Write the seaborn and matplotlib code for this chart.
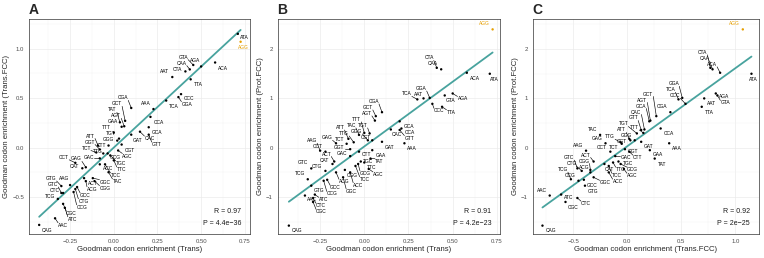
import matplotlib
matplotlib.use('Agg')
import seaborn as sns
import matplotlib.pyplot as plt
import pandas as pd
import numpy as np
from matplotlib.ticker import MultipleLocator

# Goodman codon enrichment per codon
codons = ['TTT', 'TTC', 'TTA', 'TTG', 'CTT', 'CTC', 'CTA', 'CTG', 'ATT', 'ATC',
          'ATA', 'GTT', 'GTC', 'GTA', 'GTG', 'TCT', 'TCC', 'TCA', 'TCG', 'CCT',
          'CCC', 'CCA', 'CCG', 'ACT', 'ACC', 'ACA', 'ACG', 'GCT', 'GCC', 'GCA',
          'GCG', 'TAT', 'TAC', 'CAT', 'CAC', 'CAA', 'CAG', 'AAT', 'AAC', 'AAA',
          'AAG', 'GAT', 'GAC', 'GAA', 'GAG', 'TGT', 'TGC', 'CGT', 'CGC', 'CGA',
          'CGG', 'AGT', 'AGC', 'AGA', 'AGG', 'GGT', 'GGC', 'GGA', 'GGG']
trans = [0.00, 0.00, 0.44, -0.06, -0.03, -0.29, 0.41, -0.22, -0.09, -0.28,
         0.71, 0.20, -0.30, 0.455, -0.30, -0.10, -0.05, 0.30, -0.32, -0.22,
         0.385, 0.21, -0.23, -0.17, -0.08, 0.58, -0.16, 0.065, -0.21, 0.20,
         -0.035, 0.035, -0.03, -0.18, 0.15, 0.435, -0.427, 0.335, -0.336, 0.227,
         -0.25, 0.10, -0.08, 0.045, -0.16, 0.03, -0.02, 0.045, -0.29, 0.10,
         -0.11, 0.06, 0.025, 0.50, 0.726, -0.08, -0.12, 0.37, 0.02]
trans_fcc = [0.15, -0.13, 0.69, -0.06, 0.02, -0.46, 0.77, -0.42, 0.02, -0.61,
             1.15, 0.13, -0.46, 0.835, -0.39, -0.05, -0.17, 0.475, -0.52, -0.155,
             0.54, 0.31, -0.45, -0.31, -0.17, 0.86, -0.34, 0.27, -0.40, 0.205,
             -0.06, 0.255, -0.25, -0.21, 0.16, 0.79, -0.783, 0.713, -0.716, 0.389,
             -0.38, 0.13, -0.11, 0.21, -0.20, 0.09, -0.08, 0.03, -0.57, 0.40,
             -0.34, 0.215, -0.03, 0.82, 1.07, -0.02, -0.31, 0.51, 0.07]
prot_fcc = [0.30, -0.30, 0.83, 0.11, -0.08, -1.02, 1.62, -0.47, 0.18, -0.95,
            1.50, 0.36, -0.42, 1.06, -0.77, 0.08, -0.37, 0.98, -0.64, -0.08,
            0.89, 0.39, -0.67, -0.28, -0.50, 1.52, -0.50, 0.64, -0.65, 0.535,
            -0.33, -0.22, 0.26, -0.33, 0.37, 1.59, -1.58, 1.00, -0.97, 0.09,
            -0.06, 0.12, -0.17, -0.05, 0.09, 0.29, -0.28, 0.15, -1.10, 0.72,
            -0.45, 0.55, -0.43, 1.10, 2.40, -0.03, -0.60, 1.01, 0.15]

r_text = ['0.97', '0.91', '0.92']
p_text = ['4.4e\u221236', '4.2e\u221223', '2e\u221225']

df = pd.DataFrame({'codon': codons, 'trans': trans,
                   'trans_fcc': trans_fcc, 'prot_fcc': prot_fcc})
df['highlight'] = df['codon'].eq('AGG')

TEAL = '#48A39E'
ORANGE = '#E69F00'

sns.set_style('white')
plt.rcParams['font.family'] = ['Liberation Sans', 'DejaVu Sans']

fig = plt.figure(figsize=(7.64, 2.58), dpi=100)


def repel_labels(ax, xs, ys, names, colors, fontsize=3.5):
    """Very small ggrepel-like label placement."""
    renderer = fig.canvas.get_renderer()
    xs = np.asarray(xs, float)
    ys = np.asarray(ys, float)
    pts = ax.transData.transform(np.column_stack([xs, ys]))
    half = []
    for name in names:
        t = ax.text(0, 0, name, fontsize=fontsize)
        bb = t.get_window_extent(renderer)
        half.append((bb.width / 2, bb.height / 2))
        t.remove()
    half = np.array(half)
    k, b = np.polyfit(xs, ys, 1)
    side = np.sign(ys - (k * xs + b))
    side[side == 0] = 1
    start = pts + np.column_stack([-side * (half[:, 0] + 3),
                                   side * (half[:, 1] + 3)])
    pos = start.copy()
    n = len(names)
    eye = np.eye(n, dtype=bool)
    tie = np.sign(np.arange(n)[:, None] - np.arange(n)[None, :])
    box = ax.get_window_extent(renderer)
    for it in range(1200):
        late = it >= 900
        dx = pos[:, 0, None] - pos[None, :, 0]
        dy = pos[:, 1, None] - pos[None, :, 1]
        ox = half[:, 0, None] + half[None, :, 0] + 2.0 - np.abs(dx)
        oy = half[:, 1, None] + half[None, :, 1] + 1.0 - np.abs(dy)
        hit = (ox > 0) & (oy > 0) & ~eye
        sx = np.where(dx == 0, tie, np.sign(dx))
        sy = np.where(dy == 0, tie, np.sign(dy))
        ux = ox < oy
        fx = np.where(hit & ux, sx * ox, 0).sum(1) * 0.5
        fy = np.where(hit & ~ux, sy * oy, 0).sum(1) * 0.5
        if not late:
            # keep labels off the dots
            qx = pos[:, 0, None] - pts[None, :, 0]
            qy = pos[:, 1, None] - pts[None, :, 1]
            pox = half[:, 0, None] + 2.0 - np.abs(qx)
            poy = half[:, 1, None] + 1.5 - np.abs(qy)
            phit = (pox > 0) & (poy > 0)
            pux = pox < poy
            fx += np.where(phit & pux, np.where(qx == 0, 1, np.sign(qx)) * pox, 0).sum(1) * 0.5
            fy += np.where(phit & ~pux, np.where(qy == 0, 1, np.sign(qy)) * poy, 0).sum(1) * 0.5
            pos += 0.004 * (start - pos)
        pos += np.column_stack([fx, fy]) * 0.5
        pos[:, 0] = np.clip(pos[:, 0], box.x0 + half[:, 0] + 1, box.x1 - half[:, 0] - 1)
        pos[:, 1] = np.clip(pos[:, 1], box.y0 + half[:, 1] + 1, box.y1 - half[:, 1] - 1)
    inv = ax.transData.inverted()
    for i, name in enumerate(names):
        cx = np.clip(pts[i, 0], pos[i, 0] - half[i, 0], pos[i, 0] + half[i, 0])
        cy = np.clip(pts[i, 1], pos[i, 1] - half[i, 1], pos[i, 1] + half[i, 1])
        if np.hypot(cx - pts[i, 0], cy - pts[i, 1]) > 4.5:
            seg = inv.transform([pts[i], (cx, cy)])
            ax.plot(seg[:, 0], seg[:, 1], color=colors[i], lw=0.45, zorder=2)
        tx, ty = inv.transform(pos[i])
        ax.text(tx, ty, name, fontsize=fontsize, color=colors[i],
                ha='center', va='center', zorder=4)


panels = [
    ('A', 'trans', 'trans_fcc', 'Goodman codon enrichment (Trans)',
     'Goodman codon enrichment (Trans.FCC)',
     [0.0380, 0.093, 0.2893, 0.8333], (-0.485, 0.78), (-0.875, 1.30),
     [-0.25, 0, 0.25, 0.5, 0.75], '{:.2f}', 0.125,
     [-0.5, 0, 0.5, 1.0], '{:.1f}', 0.25),
    ('B', 'trans', 'prot_fcc', 'Goodman codon enrichment (Trans)',
     'Goodman codon enrichment (Prot.FCC)',
     [0.3635, 0.093, 0.2910, 0.8333], (-0.49, 0.768), (-1.75, 2.61),
     [-0.25, 0, 0.25, 0.5, 0.75], '{:.2f}', 0.125,
     [-1, 0, 1, 2], '{:.0f}', 0.5),
    ('C', 'trans_fcc', 'prot_fcc', 'Goodman codon enrichment (Trans.FCC)',
     'Goodman codon enrichment (Prot.FCC)',
     [0.6973, 0.093, 0.2962, 0.8333], (-0.873, 1.22), (-1.75, 2.61),
     [-0.5, 0, 0.5, 1.0], '{:.1f}', 0.25,
     [-1, 0, 1, 2], '{:.0f}', 0.5),
]

for i, (letter, xcol, ycol, xlab, ylab, rect, xlim, ylim,
        xt, xfmt, xminor, yt, yfmt, yminor) in enumerate(panels):
    ax = fig.add_axes(rect)
    ax.set_xlim(*xlim)
    ax.set_ylim(*ylim)
    ax.set_xticks(xt)
    ax.set_xticklabels([xfmt.format(v).replace('-', '\u2212') for v in xt])
    ax.set_yticks(yt)
    ax.set_yticklabels([yfmt.format(v).replace('-', '\u2212') for v in yt])
    ax.xaxis.set_minor_locator(MultipleLocator(xminor))
    ax.yaxis.set_minor_locator(MultipleLocator(yminor))
    ax.grid(which='major', color='#EBEBEB', lw=0.5)
    ax.grid(which='minor', color='#F2F2F2', lw=0.3)
    ax.set_axisbelow(True)
    ax.tick_params(which='major', length=2, width=0.4, color='#333333',
                   labelsize=4.3, labelcolor='#4D4D4D', pad=1.5)
    ax.tick_params(which='minor', length=0)
    for s in ax.spines.values():
        s.set_color('#333333')
        s.set_linewidth(0.5)

    sns.regplot(data=df, x=xcol, y=ycol, ax=ax, ci=None, scatter=False,
                line_kws={'color': TEAL, 'lw': 1.3, 'zorder': 3})
    sns.scatterplot(data=df, x=xcol, y=ycol, hue='highlight',
                    palette={False: 'black', True: ORANGE}, s=3, linewidth=0,
                    legend=False, ax=ax, zorder=5)
    ax.set_xlim(*xlim)
    ax.set_ylim(*ylim)
    ax.set_xlabel(xlab, fontsize=5.6, labelpad=1.5)
    ax.set_ylabel(ylab, fontsize=5.6, labelpad=1.5)

    colors = [ORANGE if h else 'black' for h in df['highlight']]
    repel_labels(ax, df[xcol], df[ycol], list(df['codon']), colors)

    ax.text(0.96, 0.104, f'R = {r_text[i]}', transform=ax.transAxes,
            ha='right', va='center', fontsize=5, color='#1A1A1A')
    ax.text(0.96, 0.051, f'P = {p_text[i]}', transform=ax.transAxes,
            ha='right', va='center', fontsize=5, color='#1A1A1A')
    fig.text(rect[0] - 0.001, 1 - 3.5 / 258, letter, ha='left', va='top',
             fontsize=10, fontweight='bold')

fig.savefig('out.png', dpi=100)
